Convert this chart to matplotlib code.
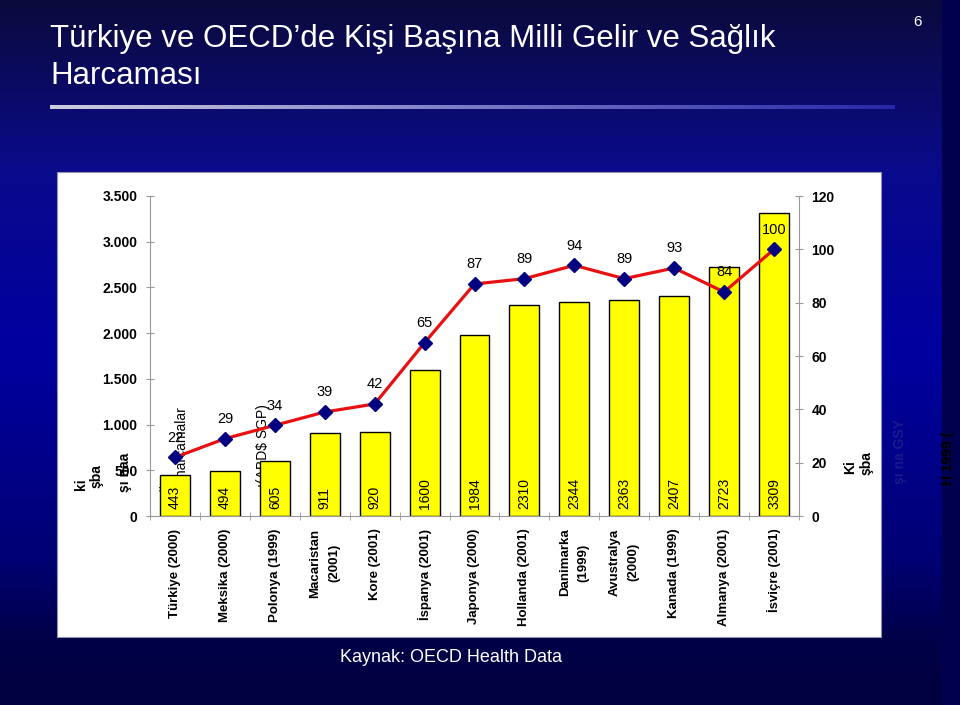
import numpy as np
import matplotlib.pyplot as plt
from matplotlib.patches import Rectangle

plt.rcParams['font.family'] = ['Liberation Sans', 'DejaVu Sans']

# data
countries = ["Türkiye (2000)", "Meksika (2000)", "Polonya (1999)", "Macaristan\n(2001)",
             "Kore (2001)", "İspanya (2001)", "Japonya (2000)", "Hollanda (2001)",
             "Danimarka\n(1999)", "Avustralya\n(2000)", "Kanada (1999)",
             "Almanya (2001)", "İsviçre (2001)"]
health_spend = [443, 494, 605, 911, 920, 1600, 1984, 2310, 2344, 2363, 2407, 2723, 3309]
gdp_index = [22, 29, 34, 39, 42, 65, 87, 89, 94, 89, 93, 84, 100]
left_ticks = [0, 500, 1000, 1500, 2000, 2500, 3000, 3500]
left_labels = ["0", "500", "1.000", "1.500", "2.000", "2.500", "3.000", "3.500"]
right_ticks = [0, 20, 40, 60, 80, 100, 120]

W, H = 960, 705
fig = plt.figure(figsize=(W / 100, H / 100), dpi=100)

# slide background (pixel coordinates)
bg = fig.add_axes([0, 0, 1, 1])
bg.set_xlim(0, W)
bg.set_ylim(H, 0)
bg.axis('off')
yy = np.arange(H)
stops = [0, 170, 350, 560, 640, 705]
cols = np.array([[10, 10, 60], [10, 10, 140], [0, 0, 160], [0, 0, 115], [0, 0, 72], [0, 0, 62]]) / 255
grad = np.stack([np.interp(yy, stops, cols[:, k]) for k in range(3)], axis=-1)[:, None, :]
bg.imshow(grad, extent=[0, W, H, 0], aspect='auto', zorder=0)
bg.add_patch(Rectangle((942, 0), 18, H, fc='#00004e', ec='none', zorder=1))

# separator line under the title
sep = np.linspace(0, 1, 200)
sep_c = np.stack([np.interp(sep, [0, 1], [205, 40]), np.interp(sep, [0, 1], [205, 40]),
                  np.interp(sep, [0, 1], [225, 170])], axis=-1)[None, :, :] / 255
bg.imshow(sep_c, extent=[50, 895, 109, 105], aspect='auto', zorder=1)

bg.text(50, 47, "Türkiye ve OECD’de Kişi Başına Milli Gelir ve Sağlık", color='white',
        fontsize=22.5, va='baseline', ha='left')
bg.text(50, 84, "Harcaması", color='white', fontsize=22.5, va='baseline', ha='left')
bg.text(917, 22, "6", color='white', fontsize=11, ha='center', va='center')
bg.text(451, 658, "Kaynak: OECD Health Data", color='white', fontsize=13, ha='center', va='center')

# white chart panel
bg.add_patch(Rectangle((57, 172), 824, 465, fc='white', ec='#9090b0', lw=0.8, zorder=2))

# stray axis-title fragments
frags = [(81, 484, "ki", 'black', 'bold'), (97, 476, "şba", 'black', 'bold'),
         (125, 472, "şı naa", 'black', 'bold'), (166, 486, "ğı", 'black', 'normal'),
         (182, 448, "k harcamalar", 'black', 'normal'), (263, 446, "ı(ABD$ SGP)", 'black', 'normal'),
         (850, 467, "Ki", 'black', 'bold'), (867, 463, "şba", 'black', 'bold'),
         (900, 452, "şı na GSY", '#1a1a8a', 'bold'), (948, 458, "H 1999 (", 'black', 'bold')]
for fx, fy, s, c, w in frags:
    bg.text(fx, fy, s, rotation=90, ha='center', va='center', fontsize=10, color=c,
            fontweight=w, zorder=5)

# chart
ax = fig.add_axes([150 / W, 1 - 516 / H, (799 - 150) / W, (516 - 196) / H])
ax.patch.set_visible(False)
x = np.arange(len(countries))
ax.bar(x, health_spend, width=0.6, color='#FFFF00', edgecolor='black', linewidth=1, zorder=2)
for i, v in enumerate(health_spend):
    ax.text(i, 75, str(v), rotation=90, ha='center', va='bottom', fontsize=10, zorder=3)
ax.set_xlim(-0.5, len(countries) - 0.5)
ax.set_ylim(0, 3500)
ax.set_yticks(left_ticks, left_labels, fontsize=10, fontweight='bold')
ax.set_xticks(x, countries, rotation=90, fontsize=9.5, fontweight='bold',
              multialignment='center', linespacing=1.75)
ax.set_xticks(np.arange(-0.5, len(countries)), minor=True)
ax.tick_params(axis='x', which='major', length=0, pad=9)
ax.tick_params(axis='x', which='minor', direction='inout', length=6, color='#999999')
ax.tick_params(axis='y', direction='inout', length=6, color='#999999', pad=6)
for s in ['top', 'right']:
    ax.spines[s].set_visible(False)
for s in ['left', 'bottom']:
    ax.spines[s].set_color('#999999')

ax2 = ax.twinx()
ax2.plot(x, gdp_index, color='#E81010', lw=2.3, marker='D', ms=7, mfc='#000080',
         mec='#000080', zorder=4)
for i, v in enumerate(gdp_index):
    ax2.annotate(str(v), (i, v), xytext=(0, 9), textcoords='offset points',
                 ha='center', va='bottom', fontsize=10.5)
ax2.set_ylim(0, 120)
ax2.set_yticks(right_ticks, [str(t) for t in right_ticks], fontsize=10, fontweight='bold')
ax2.tick_params(axis='y', direction='inout', length=6, color='#999999', pad=6)
for s in ['top', 'left', 'bottom']:
    ax2.spines[s].set_visible(False)
ax2.spines['right'].set_color('#999999')

fig.savefig("out.png", dpi=100)
